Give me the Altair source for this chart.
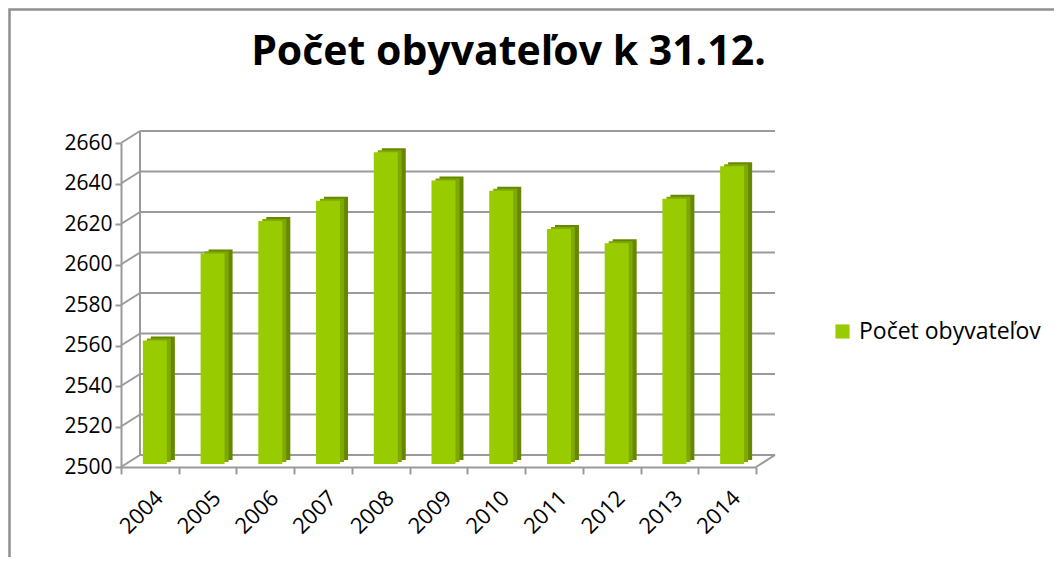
import altair as alt
import pandas as pd

years = ["2004", "2005", "2006", "2007", "2008", "2009", "2010", "2011", "2012", "2013", "2014"]
population = [2561, 2604, 2620, 2630, 2654, 2640, 2635, 2616, 2609, 2631, 2647]
series_name = "Počet obyvateľov"
y_ticks = [2500, 2520, 2540, 2560, 2580, 2600, 2620, 2640, 2660]
title_text = "Počet obyvateľov k 31.12."
axis_min, axis_max = 2500, 2660

FONT = "Open Sans"
W, H = 635, 324
DX, DY = 19, -12  # 3D depth shift of back wall

df = pd.DataFrame({"year": years, "value": population, "series": series_name, "base": axis_min})
ticks_df = pd.DataFrame({"v": y_ticks})
wall_df = pd.DataFrame({"lo": [axis_min], "hi": [axis_max]})

grid_col = "#9a9a9a"

yscale = alt.Scale(domain=[axis_min, axis_max], zero=False, nice=False)
xscale = alt.Scale(paddingInner=0, paddingOuter=0)
yaxis = alt.Axis(
    title=None, values=y_ticks, format="d", grid=False, labelFontSize=21, labelFont=FONT,
    labelColor="black", domainColor=grid_col, domainWidth=2, tickColor=grid_col,
    tickWidth=2, tickSize=6, labelPadding=3,
)
xaxis = alt.Axis(
    title=None, labelAngle=-45, labelFontSize=22, labelFont=FONT, labelColor="black",
    domainColor=grid_col, domainWidth=2, tickColor=grid_col, tickWidth=2, tickSize=7,
    tickBand="extent", labelPadding=13, labelOffset=2,
)

frame = alt.Chart(wall_df).mark_rect(fillOpacity=0, stroke="#909090", strokeWidth=2.5).encode(
    x=alt.value(-111.5), x2=alt.value(W + 330), y=alt.value(-133.5), y2=alt.value(H + 130)
)

gridlines = alt.Chart(ticks_df).mark_rule(color=grid_col, strokeWidth=2, yOffset=DY).encode(
    x=alt.value(DX), x2=alt.value(W + DX), y=alt.Y("v:Q", scale=yscale, axis=yaxis)
)
diagonals = alt.Chart(ticks_df).mark_rule(color=grid_col, strokeWidth=2, y2Offset=DY).encode(
    x=alt.value(0), x2=alt.value(DX), y=alt.Y("v:Q", scale=yscale, axis=yaxis), y2="v:Q"
)
backwall = alt.Chart(wall_df).mark_rule(color=grid_col, strokeWidth=2, yOffset=DY, y2Offset=DY).encode(
    x=alt.value(DX), y=alt.Y("lo:Q", scale=yscale, axis=yaxis), y2="hi:Q"
)
floor_right = alt.Chart(wall_df).mark_rule(color=grid_col, strokeWidth=2, y2Offset=DY).encode(
    x=alt.value(W), x2=alt.value(W + DX), y=alt.Y("lo:Q", scale=yscale, axis=yaxis), y2="lo:Q"
)

base = alt.Chart(df)
side = base.mark_bar(size=24, color="#668800", xOffset=13, yOffset=-7, y2Offset=-7).encode(
    x=alt.X("year:N", scale=xscale, axis=xaxis),
    y=alt.Y("value:Q", scale=yscale, axis=yaxis),
    y2="base:Q",
)
top = base.mark_bar(size=24, color="#7fa800", xOffset=9, yOffset=-5, y2Offset=-5).encode(
    x=alt.X("year:N", scale=xscale, axis=xaxis),
    y=alt.Y("value:Q", scale=yscale, axis=yaxis),
    y2="base:Q",
)
front = base.mark_bar(size=24, xOffset=5, yOffset=-3, y2Offset=-3).encode(
    x=alt.X("year:N", scale=xscale, axis=xaxis),
    y=alt.Y("value:Q", scale=yscale, axis=yaxis),
    y2="base:Q",
    color=alt.Color(
        "series:N",
        scale=alt.Scale(domain=[series_name], range=["#99CC00"]),
        legend=alt.Legend(
            title=None, orient="none", legendX=710, legendY=177, symbolType="square",
            symbolSize=200, symbolStrokeWidth=0, labelFontSize=23, labelFont=FONT,
            labelColor="black", symbolOpacity=1, labelOffset=5, labelLimit=400,
        ),
    ),
)

chart = alt.layer(frame, gridlines, diagonals, backwall, floor_right, side, top, front).properties(
    width=W,
    height=H,
    autosize=alt.AutoSizeParams(type="none"),
    padding={"left": 113, "top": 135, "right": 298, "bottom": 90},
    title=alt.TitleParams(
        title_text, font=FONT, fontSize=41, fontWeight="bold", color="black",
        anchor="middle", dx=70, offset=-98, baseline="alphabetic",
    ),
).configure_view(stroke=None)

chart.save("out.html", embed_options={"renderer": "svg", "actions": False})
